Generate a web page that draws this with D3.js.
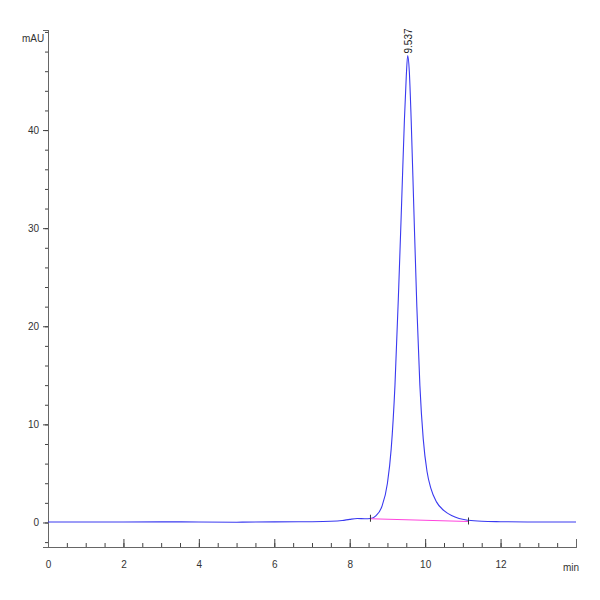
<!DOCTYPE html>
<html><head><meta charset="utf-8">
<script src="https://cdn.jsdelivr.net/npm/d3@7"></script>
<style>body{margin:0;background:#fff}text{font-family:"Liberation Sans",Arial,sans-serif}</style>
</head><body>
<script>
// chromatogram samples (min, mAU)
var times  = [0, 1, 2, 3, 4, 5, 6, 7, 7.5, 7.8, 8.0, 8.2, 8.4, 8.55, 8.7, 8.85, 9.0, 9.1, 9.2, 9.3, 9.38, 9.45, 9.5, 9.537, 9.58, 9.63, 9.7, 9.78, 9.86, 9.95, 10.05, 10.15, 10.3, 10.5, 10.7, 10.9, 11.15, 11.5, 12, 13, 14];
var signal = [0.05, 0.05, 0.05, 0.06, 0.05, 0.03, 0.06, 0.08, 0.12, 0.2, 0.32, 0.4, 0.38, 0.4, 0.7, 1.6, 4.0, 7.5, 14, 24, 33, 41, 45.5, 47.6, 46, 41, 32, 22, 14, 8.5, 5.2, 3.5, 2.1, 1.2, 0.7, 0.4, 0.22, 0.12, 0.08, 0.05, 0.05];
var baseT = [8.55, 11.15], baseV = [0.38, 0.1];
var xTicks = [0, 2, 4, 6, 8, 10, 12];
var yTicks = [0, 10, 20, 30, 40];
var peakLabel = "9.537";

var svg = d3.select("body").append("svg").attr("width", 600).attr("height", 600);
var x = d3.scaleLinear().domain([0, 14]).range([48, 576]);
var y = d3.scaleLinear().domain([-2.5, 50.2]).range([547, 30]);

// axes
var gx = svg.append("g").attr("transform", "translate(0,547)")
  .call(d3.axisBottom(x).tickValues(d3.range(0, 14.01, 0.5)).tickSize(-4).tickFormat(""));
gx.append("g").call(d3.axisBottom(x).tickValues(xTicks).tickSize(-8).tickPadding(14).tickFormat(d3.format("d")));
svg.append("text").attr("x", 563).attr("y", 571).attr("font-size", 10).attr("fill", "#333").text("min");

var gy = svg.append("g").attr("transform", "translate(48,0)")
  .call(d3.axisLeft(y).tickValues(d3.range(-2, 50.1, 2)).tickSize(3).tickFormat(""));
gy.append("g").call(d3.axisLeft(y).tickValues(yTicks).tickSize(5).tickPadding(4).tickFormat(d3.format("d")));
svg.selectAll(".domain").attr("stroke", "#666");
svg.selectAll(".tick line").attr("stroke", "#444");
svg.selectAll(".tick text").attr("font-size", 10).attr("fill", "#333");
svg.append("text").attr("x", 22).attr("y", 42).attr("font-size", 10).attr("fill", "#333").text("mAU");

// signal
var pts = times.map(function(t, i) { return [t, signal[i]]; });
svg.append("path").datum(pts)
  .attr("fill", "none").attr("stroke", "#3a3af0").attr("stroke-width", 1.1)
  .attr("d", d3.line().x(function(d) { return x(d[0]); }).y(function(d) { return y(d[1]); }).curve(d3.curveMonotoneX));

// integration baseline
svg.append("line").attr("x1", x(baseT[0])).attr("y1", y(baseV[0])).attr("x2", x(baseT[1])).attr("y2", y(baseV[1]))
  .attr("stroke", "#ff44dd").attr("stroke-width", 1.2);
baseT.forEach(function(t, i) {
  svg.append("line").attr("x1", x(t)).attr("x2", x(t)).attr("y1", y(baseV[i]) - 4).attr("y2", y(baseV[i]) + 3).attr("stroke", "#333");
});

// peak label
svg.append("text").attr("transform", "translate(" + (x(9.537) + 4) + "," + (y(47.6) - 2) + ") rotate(-90)")
  .attr("font-size", 10).attr("fill", "#222").text(peakLabel);
</script>
</body></html>
